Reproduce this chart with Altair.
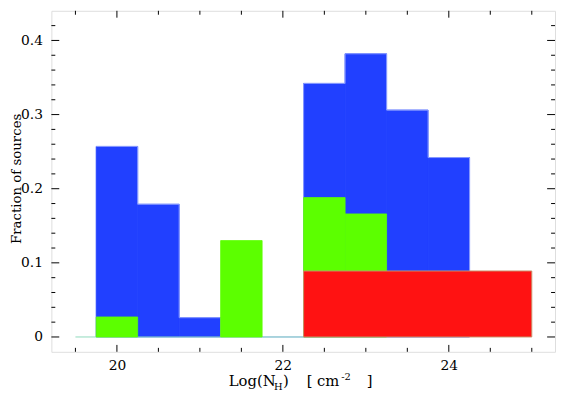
import altair as alt
import pandas as pd

# ---- data ----
bin_lo = [19.75, 20.25, 20.75, 21.25, 21.75, 22.25, 22.75, 23.25, 23.75]
bin_hi = [20.25, 20.75, 21.25, 21.75, 22.25, 22.75, 23.25, 23.75, 24.25]
blue_frac = [0.257, 0.179, 0.026, 0.0, 0.0, 0.342, 0.382, 0.306, 0.242]
green_frac = [0.027, 0.0, 0.0, 0.130, 0.0, 0.188, 0.166, 0.0, 0.0]
red_lo = [22.25]
red_hi = [25.0]
red_frac = [0.089]
zero_lo = [19.5]
zero_hi = [22.25]

x_major = [20, 22, 24]
x_minor = [19.5, 20.5, 21.0, 21.5, 22.5, 23.0, 23.5, 24.5, 25.0]
y_major = [0.0, 0.1, 0.2, 0.3, 0.4]
y_minor = [0.02, 0.04, 0.06, 0.08, 0.12, 0.14, 0.16, 0.18, 0.22, 0.24, 0.26,
           0.28, 0.32, 0.34, 0.36, 0.38, 0.42]

y_title = "Fraction of sources"
x_title_parts = ["Log(N", "H", ")", "[ cm", "-2", "]"]

# ---- layout ----
W, H = 511, 346
FONT = "DejaVu Serif"
XD = [19.21, 25.28]
YD = [-0.02, 0.44]
BLUE = "#2140ff"
GREEN = "#5cff00"

xs = alt.Scale(domain=XD, nice=False, zero=False)
ys = alt.Scale(domain=YD, nice=False, zero=False)

blue_df = pd.DataFrame({"lo": bin_lo, "hi": bin_hi, "v": blue_frac})
blue_df = blue_df[blue_df.v > 0]
green_df = pd.DataFrame({"lo": bin_lo, "hi": bin_hi, "v": green_frac})
green_df = green_df[green_df.v > 0]
red_df = pd.DataFrame({"lo": red_lo, "hi": red_hi, "v": red_frac})
zero_df = pd.DataFrame({"lo": zero_lo, "hi": zero_hi})
outline_df = pd.DataFrame({"lo": bin_lo + [bin_hi[-1]], "v": blue_frac + [0.0]})

xaxis = alt.Axis(values=x_major, ticks=False, tickSize=0, domain=False, grid=False,
                 format="d", labelFont=FONT, labelFontSize=14, labelColor="black",
                 labelPadding=7, labelFlush=False)
yaxis = alt.Axis(values=y_major, ticks=False, tickSize=0, domain=False, grid=False,
                 format=".1~f", labelFont=FONT, labelFontSize=14, labelColor="black",
                 labelPadding=9, titleFont=FONT, titleFontSize=13.5, titleFontWeight="normal",
                 titleColor="black", titleAngle=270, titleBaseline="alphabetic",
                 titleAlign="center", titleX=-31.4, titleY=170)

blue = alt.Chart(blue_df).mark_rect(color=BLUE, stroke=BLUE, strokeWidth=0.8).encode(
    x=alt.X("lo:Q", scale=xs, axis=xaxis, title=None),
    x2="hi:Q",
    y=alt.Y("v:Q", scale=ys, axis=yaxis, title=y_title),
    y2=alt.datum(0),
)
blue_outline = alt.Chart(outline_df).mark_line(
    interpolate="step-after", color="#8a9cff", strokeWidth=1
).encode(x=alt.X("lo:Q", scale=xs), y=alt.Y("v:Q", scale=ys))

zero_line = alt.Chart(zero_df).mark_rule(color="#8fd9bd", strokeWidth=1).encode(
    x=alt.X("lo:Q", scale=xs), x2="hi:Q", y=alt.datum(0)
)
green = alt.Chart(green_df).mark_rect(color=GREEN, stroke=GREEN, strokeWidth=0.8).encode(
    x=alt.X("lo:Q", scale=xs), x2="hi:Q", y=alt.Y("v:Q", scale=ys), y2=alt.datum(0)
)
red = alt.Chart(red_df).mark_rect(color="#ff1212", stroke="#c8906a", strokeWidth=1).encode(
    x=alt.X("lo:Q", scale=xs), x2="hi:Q", y=alt.Y("v:Q", scale=ys), y2=alt.datum(0)
)

def xticks(vals, length):
    d = pd.DataFrame({"t": vals})
    bot = alt.Chart(d).mark_rule(color="black", strokeWidth=1).encode(
        x=alt.X("t:Q", scale=xs), y=alt.value(H), y2=alt.value(H - length))
    top = alt.Chart(d).mark_rule(color="black", strokeWidth=1).encode(
        x=alt.X("t:Q", scale=xs), y=alt.value(0), y2=alt.value(length))
    return [bot, top]

def yticks(vals, length):
    d = pd.DataFrame({"t": vals})
    left = alt.Chart(d).mark_rule(color="black", strokeWidth=1).encode(
        y=alt.Y("t:Q", scale=ys), x=alt.value(0), x2=alt.value(length))
    right = alt.Chart(d).mark_rule(color="black", strokeWidth=1).encode(
        y=alt.Y("t:Q", scale=ys), x=alt.value(W), x2=alt.value(W - length))
    return [left, right]

def txt(s, x, y, size):
    return alt.Chart(pd.DataFrame({"s": [s]})).mark_text(
        align="left", baseline="alphabetic", font=FONT, fontSize=size, color="black"
    ).encode(x=alt.value(x), y=alt.value(y), text="s:N")

base_y = 381
title_layers = [
    txt(x_title_parts[0], 180, base_y, 15),
    txt(x_title_parts[1], 226, base_y + 4, 10),
    txt(x_title_parts[2], 235, base_y, 15),
    txt(x_title_parts[3], 259, base_y, 15),
    txt(x_title_parts[4], 294, base_y - 6, 10),
    txt(x_title_parts[5], 320, base_y, 15),
]

layers = [blue, blue_outline, zero_line, green, red]
layers += xticks(x_major, 7) + xticks(x_minor, 4)
layers += yticks(y_major, 8) + yticks(y_minor, 4)
layers += title_layers

chart = alt.layer(*layers).properties(
    width=W, height=H,
    autosize=alt.AutoSizeParams(type="none"),
    padding={"left": 44, "top": 0, "right": 1, "bottom": 41},
).configure_view(stroke="black", strokeWidth=1.2).configure(background="white")

chart.save("out.html", embed_options={"renderer": "svg", "actions": False})
